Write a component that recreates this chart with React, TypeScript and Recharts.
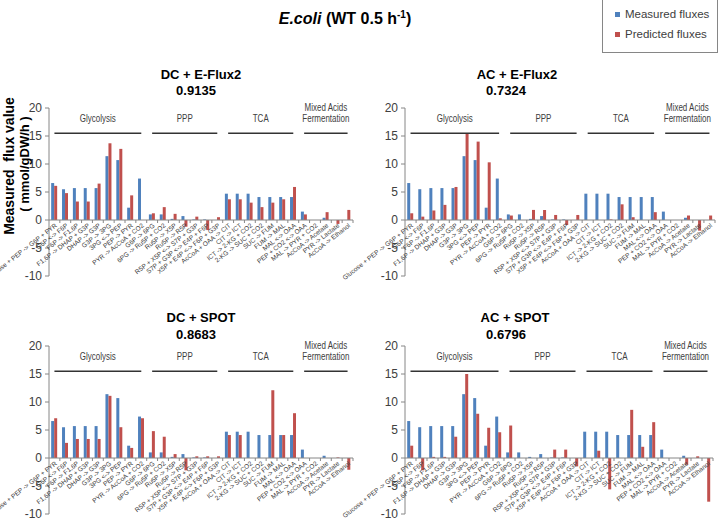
import React from "react";
import { BarChart, Bar, XAxis, YAxis, ReferenceLine, Label } from "recharts";

const categories = [
  "Glucose + PEP -> G6P + PYR",
  "G6P <-> F6P",
  "F6P -> F1,6P",
  "F1,6P -> DHAP + G3P",
  "DHAP -> G3P",
  "G3P -> 3PG",
  "3PG <-> PEP",
  "PEP -> PYR",
  "PYR -> AcCoA + CO2",
  "G6P -> 6PG",
  "6PG -> Ru5P + CO2",
  "Ru5P -> X5P",
  "Ru5P -> R5P",
  "R5P + X5P <-> S7P + G3P",
  "S7P + G3P <-> E4P + F6P",
  "X5P + E4P <-> F6P + G3P",
  "AcCoA + OAA -> CIT",
  "CIT -> ICT",
  "ICT -> 2-KG + CO2",
  "2-KG -> SUC + CO2",
  "SUC -> FUM",
  "FUM -> MAL",
  "MAL <-> OAA",
  "PEP + CO2 <-> OAA",
  "MAL -> PYR + CO2",
  "AcCoA -> Acetate",
  "PYR -> Lactate",
  "AcCoA -> Ethanol",
];

const measured = [6.6, 5.5, 5.7, 5.7, 5.7, 11.4, 10.7, 2.2, 7.4, 1.0, 1.0, 0.2, 0.7, 0.1, 0.1, 0, 4.7, 4.7, 4.7, 4.1, 4.1, 4.1, 4.1, 1.5, 0, 0.4, 0, 0];

const dcEflux2 = [6.1, 4.8, 3.3, 3.3, 6.5, 13.7, 12.7, 4.4, 0, 1.2, 2.3, 1.1, -1.2, 0.6, -1.8, 0.5, 3.7, 3.7, 3.1, 2.3, 3.1, 3.7, 5.9, 1.0, 0, 1.4, -0.7, 1.8];
const acEflux2 = [1.2, 0.6, 1.7, 2.7, 5.9, 15.4, 14.0, 10.3, 0.3, 0.8, 0, 1.8, 1.8, 0.9, -0.9, 0.9, 0, 0, 0.1, 2.8, 0.5, 0, 1.4, 0, 0, 0.8, -1.9, 0.8];
const dcSpot = [7.1, 2.7, 3.4, 3.4, 3.4, 11.1, 5.5, 1.8, 7.1, 4.8, 3.8, 0.7, -2.2, 0.3, 0.3, 0.3, 4.1, 4.1, 0, 0, 12.1, 4.1, 8.0, 0, 0, 0, 0.1, -2.1];
const acSpot = [2.2, -2.2, 0.2, 0.2, 3.8, 15.0, 7.9, 5.4, 4.6, 5.8, 0, 0, 0, 1.5, 1.5, -1.5, 0, 1.3, -5.6, 0, 8.6, 2.0, 6.4, 0, 0, -1.2, 0.3, -7.8];

const yTicks = [-10, -5, 0, 5, 10, 15, 20];

const groups = [
  { lines: ["Glycolysis"], from: 0, to: 8 },
  { lines: ["PPP"], from: 9, to: 15 },
  { lines: ["TCA"], from: 16, to: 22 },
  { lines: ["Mixed Acids", "Fermentation"], from: 23, to: 27 },
];
const GROUP_Y = 15.5;

const FONT = '"Liberation Sans", Arial, sans-serif';
const BLUE = "#4F81BD";
const RED = "#C0504D";
const AXIS = "#868686";

const Y_MIN = -10;
const Y_MAX = 20;
const PLOT_H = 168;
const X_AXIS_H = 1;

// condensed look of the group headers: squeeze the text horizontally
const groupLabel = (lines: string[]) => (props: any) => {
  const vb = props.viewBox || {};
  const cx = vb.x + (vb.width || 0) / 2;
  const n = lines.length;
  return (
    <g transform={`translate(${cx},${vb.y}) scale(0.8,1)`}>
      <text textAnchor="middle" fontFamily={FONT} fontSize={10} fill="#404040">
        {lines.map((l, i) => (
          <tspan key={l} x={0} y={-11 - (n - 1 - i) * 11}>
            {l}
          </tspan>
        ))}
      </text>
    </g>
  );
};

interface PanelProps {
  predicted: number[];
  left: number;
  top: number;
  width: number;
  height: number;
  yAxisWidth: number;
  marginTop: number;
  marginRight: number;
}

function Panel({ predicted, left, top, width, height, yAxisWidth, marginTop, marginRight }: PanelProps) {
  const data = categories.map((name, i) => ({
    name,
    measured: measured[i],
    predicted: predicted[i],
  }));
  const marginBottom = height - marginTop - PLOT_H - X_AXIS_H;
  const plotW = width - yAxisWidth - marginRight;
  const band = plotW / categories.length;
  const zeroOffset = (PLOT_H * (0 - Y_MIN)) / (Y_MAX - Y_MIN);

  const renderTick = (props: any) => {
    const { x, y, payload } = props;
    const y0 = y - zeroOffset;
    return (
      <g>
        <line x1={x + band / 2} x2={x + band / 2} y1={y0} y2={y0 + 3} stroke={AXIS} />
        <text
          transform={`translate(${x + 2},${y0 + 5}) rotate(-38)`}
          textAnchor="end"
          dominantBaseline="middle"
          fontFamily={FONT}
          fontSize={6.5}
          fill="#404040"
        >
          {payload.value}
        </text>
      </g>
    );
  };

  return (
    <div style={{ position: "absolute", left, top }}>
      <BarChart
        width={width}
        height={height}
        data={data}
        margin={{ top: marginTop, right: marginRight, bottom: marginBottom, left: 0 }}
        barCategoryGap="20%"
        barGap={0}
      >
        <XAxis
          dataKey="name"
          height={X_AXIS_H}
          axisLine={false}
          tickLine={false}
          tickSize={0}
          tickMargin={0}
          interval={0}
          tick={renderTick}
        />
        <YAxis
          domain={[Y_MIN, Y_MAX]}
          ticks={yTicks}
          width={yAxisWidth}
          interval={0}
          axisLine={{ stroke: AXIS }}
          tickLine={{ stroke: AXIS }}
          tickSize={4}
          tickMargin={3}
          tick={{ fontSize: 12, fill: "#404040", fontFamily: FONT }}
        />
        <Bar dataKey="measured" name="Measured fluxes" fill={BLUE} isAnimationActive={false} />
        <Bar dataKey="predicted" name="Predicted fluxes" fill={RED} isAnimationActive={false} />
        <ReferenceLine y={0} stroke={AXIS} />
        {groups.map((g) => (
          <ReferenceLine
            key={g.lines[0]}
            segment={[
              { x: categories[g.from], y: GROUP_Y },
              { x: categories[g.to], y: GROUP_Y },
            ]}
            stroke="#333333"
            strokeWidth={1.5}
          >
            <Label content={groupLabel(g.lines)} />
          </ReferenceLine>
        ))}
      </BarChart>
    </div>
  );
}

const panelTitle = (text: string, cx: number, cy: number) => (
  <div
    style={{
      position: "absolute",
      left: cx - 100,
      top: cy - 8,
      width: 200,
      textAlign: "center",
      fontFamily: FONT,
      fontWeight: "bold",
      fontSize: 13,
      lineHeight: "16px",
      color: "#000",
    }}
  >
    {text}
  </div>
);

export default function App() {
  return (
    <div
      style={{
        position: "absolute",
        left: 0,
        top: 0,
        width: 719,
        height: 521,
        overflow: "hidden",
        background: "#fff",
        fontFamily: FONT,
      }}
    >
      <div
        style={{
          position: "absolute",
          left: 245,
          top: 5,
          width: 200,
          textAlign: "center",
          fontSize: 16,
          fontWeight: "bold",
          lineHeight: "20px",
        }}
      >
        <i>E.coli</i> (WT 0.5 h<sup style={{ fontSize: 10 }}>-1</sup>)
      </div>

      <div
        style={{
          position: "absolute",
          left: 602,
          top: -1,
          width: 114,
          height: 52,
          border: "1px solid #868686",
          fontSize: 11.5,
          color: "#404040",
        }}
      >
        {[
          { name: "Measured fluxes", color: BLUE },
          { name: "Predicted fluxes", color: RED },
        ].map((s, i) => (
          <div
            key={s.name}
            style={{ position: "absolute", left: 12, top: 8 + i * 20, display: "flex", alignItems: "center", whiteSpace: "nowrap" }}
          >
            <span style={{ display: "inline-block", width: 5, height: 5, background: s.color, marginRight: 5 }} />
            {s.name}
          </div>
        ))}
      </div>

      {panelTitle("DC + E-Flux2", 201, 75)}
      {panelTitle("0.9135", 196, 91)}
      {panelTitle("AC + E-Flux2", 517, 75)}
      {panelTitle("0.7324", 506, 91)}
      {panelTitle("DC + SPOT", 201, 318)}
      {panelTitle("0.8683", 196, 335)}
      {panelTitle("AC + SPOT", 515, 318)}
      {panelTitle("0.6796", 506, 335)}

      <Panel predicted={dcEflux2} left={0} top={90} width={360} height={209} yAxisWidth={49} marginTop={18} marginRight={7} />
      <Panel predicted={acEflux2} left={290} top={90} width={429} height={209} yAxisWidth={115} marginTop={18} marginRight={4} />
      <Panel predicted={dcSpot} left={0} top={328} width={360} height={193} yAxisWidth={49} marginTop={18} marginRight={7} />
      <Panel predicted={acSpot} left={290} top={328} width={429} height={193} yAxisWidth={115} marginTop={18} marginRight={6} />

      <div
        style={{
          position: "absolute",
          left: 9,
          top: 166,
          transform: "translate(-50%, -50%) rotate(-90deg)",
          whiteSpace: "nowrap",
          fontWeight: "bold",
          fontSize: 14,
        }}
      >
        Measured&nbsp; flux value
      </div>
      <div
        style={{
          position: "absolute",
          left: 24,
          top: 164,
          transform: "translate(-50%, -50%) rotate(-90deg)",
          whiteSpace: "nowrap",
          fontWeight: "bold",
          fontSize: 13,
        }}
      >
        ( mmol/gDW/h )
      </div>
    </div>
  );
}
